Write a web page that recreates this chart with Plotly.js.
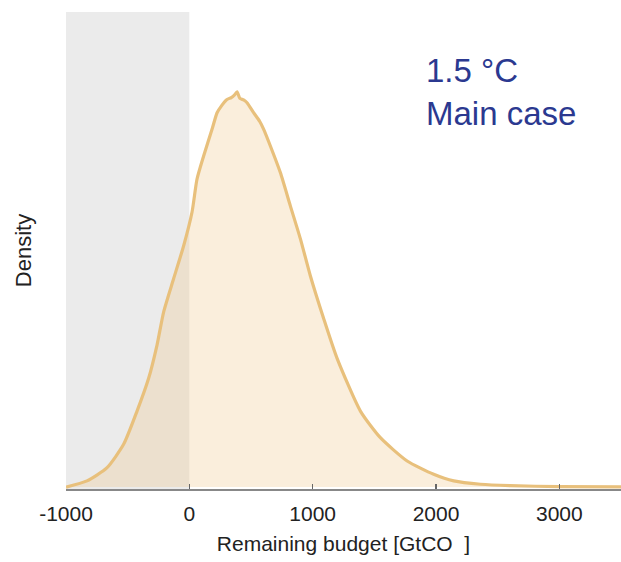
<!DOCTYPE html>
<html>
<head>
<meta charset="utf-8">
<script src="https://cdn.plot.ly/plotly-3.0.1.min.js"></script>
<style>html,body{margin:0;padding:0;background:#fff;}#chart{width:621px;height:562px;}</style>
</head>
<body>
<div id="chart"></div>
<script>
// Remaining budget [GtCO2] values and read-off density (arbitrary units)
const budget = [-1000, -830, -667, -533, -424, -330, -262, -208, -127, -46, 22, 62, 116, 184, 225, 262, 300, 340, 365, 387, 410, 440, 468, 521, 570, 603, 657, 738, 819, 900, 981, 1089, 1198, 1387, 1549, 1766, 1981, 2144, 2360, 2600, 3000, 3500];
const density = [0.000, 0.013, 0.041, 0.090, 0.160, 0.229, 0.299, 0.369, 0.439, 0.508, 0.579, 0.648, 0.697, 0.753, 0.788, 0.803, 0.815, 0.820, 0.825, 0.832, 0.818, 0.815, 0.809, 0.788, 0.770, 0.753, 0.718, 0.662, 0.592, 0.523, 0.445, 0.355, 0.271, 0.160, 0.104, 0.055, 0.027, 0.013, 0.006, 0.003, 0.001, 0.0005];
const shadeRange = [-1000, 0];
const tickVals = [-1000, 0, 1000, 2000, 3000];
const tickText = ["-1000", "0", "1000", "2000", "3000"];
const labelLines = ["1.5 °C", "Main case"];

const trace = {
  x: budget, y: density, type: 'scatter', mode: 'lines',
  line: {color: '#e8c07c', width: 3.2, shape: 'spline', smoothing: 0.6},
  fill: 'tozeroy', fillcolor: 'rgba(240,200,140,0.30)',
  hoverinfo: 'skip'
};

const layout = {
  width: 621, height: 562,
  margin: {l: 66, r: 0, t: 12, b: 73},
  paper_bgcolor: '#ffffff', plot_bgcolor: '#ffffff',
  showlegend: false,
  font: {family: 'Liberation Sans, Arial, sans-serif', color: '#222'},
  xaxis: {
    range: [-1000, 3500], tickvals: tickVals, ticktext: tickText,
    ticks: 'inside', ticklen: 5, tickwidth: 1.2, tickcolor: '#666',
    ticklabelstandoff: 5,
    showline: true, linecolor: '#888', linewidth: 1.5,
    showgrid: false, zeroline: false,
    tickfont: {size: 21, color: '#222'},
    title: {text: 'Remaining budget [GtCO\u00a0\u00a0]', font: {size: 21, color: '#222'}, standoff: 12}
  },
  yaxis: {
    range: [-0.004, 1], showticklabels: false, ticks: '', showline: false,
    showgrid: false, zeroline: false,
    title: {text: 'Density', font: {size: 22, color: '#222'}, standoff: 27}
  },
  shapes: [{
    type: 'rect', xref: 'x', yref: 'paper', x0: shadeRange[0], x1: shadeRange[1], y0: 0, y1: 1,
    fillcolor: '#ebebeb', line: {width: 0}, layer: 'below'
  }],
  annotations: [{
    xref: 'paper', yref: 'paper', x: 0.645, y: 0.92, xanchor: 'left', yanchor: 'top',
    text: labelLines.join('<br>'), align: 'left', showarrow: false,
    font: {size: 33, color: '#2b3990', family: 'Liberation Sans, Arial, sans-serif'}
  }]
};

Plotly.newPlot('chart', [trace], layout, {staticPlot: true, displayModeBar: false});
</script>
</body>
</html>
